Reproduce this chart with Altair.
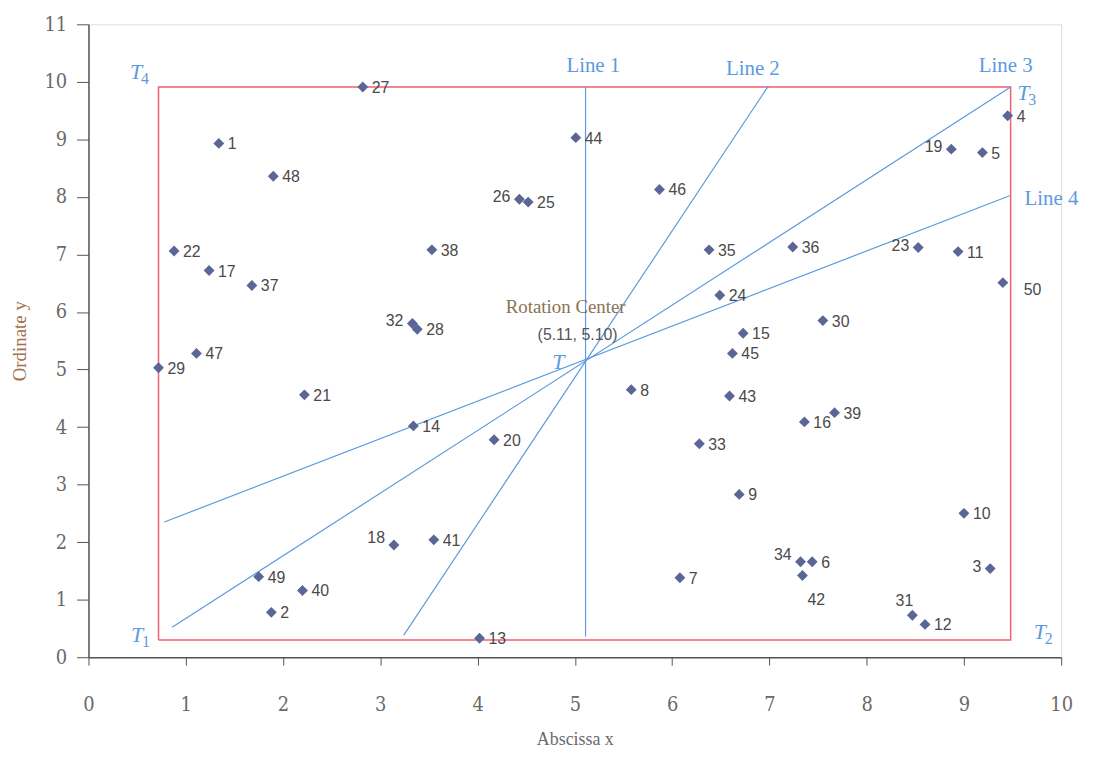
import altair as alt
import pandas as pd

# ---- data ----
ids = list(range(1, 51))
xs = [1.34, 1.88, 9.27, 9.45, 9.19, 7.44, 6.08, 5.58, 6.69, 9.00,
      8.94, 8.60, 4.02, 3.34, 6.73, 7.36, 1.24, 3.14, 8.87, 4.17,
      2.22, 0.88, 8.53, 6.49, 4.52, 4.43, 2.82, 3.38, 0.72, 7.55,
      8.47, 3.33, 6.28, 7.32, 6.38, 7.24, 1.68, 3.53, 7.67, 2.20,
      3.55, 7.34, 6.59, 5.01, 6.62, 5.87, 1.11, 1.90, 1.75, 9.40]
ys = [8.93, 0.78, 1.54, 9.41, 8.77, 1.66, 1.38, 4.65, 2.83, 2.50,
      7.05, 0.57, 0.33, 4.02, 5.63, 4.09, 6.72, 1.95, 8.83, 3.78,
      4.56, 7.06, 7.12, 6.29, 7.91, 7.96, 9.91, 5.70, 5.03, 5.85,
      0.73, 5.80, 3.71, 1.66, 7.08, 7.13, 6.46, 7.08, 4.25, 1.16,
      2.04, 1.42, 4.54, 9.03, 5.28, 8.13, 5.28, 8.36, 1.40, 6.51]

# label placement groups (by point id)
left_ids = [3, 19, 23, 26, 32]
upleft_ids = [18, 34]
above_ids = [31]
below_ids = [42]
far_ids = [50]

# bounding box corners T1..T4
box_x = [0.72, 9.48, 9.48, 0.72, 0.72]
box_y = [0.30, 0.30, 9.91, 9.91, 0.30]

# rotation lines (start, end)
line_names = ["Line 1", "Line 2", "Line 3", "Line 4"]
line_x0 = [5.11, 3.24, 0.86, 0.78]
line_y0 = [0.36, 0.38, 0.52, 2.35]
line_x1 = [5.11, 6.99, 9.48, 9.47]
line_y1 = [9.91, 9.93, 9.91, 8.02]
line_lab_x = [5.19, 6.83, 9.43, 9.90]
line_lab_y = [10.27, 10.23, 10.28, 7.96]

center = (5.11, 5.10)

t_names = ["T", "T", "T", "T", "T"]
t_subs = ["1", "2", "3", "4", ""]
t_x = [0.50, 9.78, 9.61, 0.49, 4.83]
t_y = [0.38, 0.43, 9.80, 10.17, 5.13]

# ---- tables ----
pts = pd.DataFrame({"id": ids, "x": xs, "y": ys})
pts["label"] = pts["id"].astype(str)


def grp(i):
    if i in left_ids:
        return "left"
    if i in upleft_ids:
        return "upleft"
    if i in above_ids:
        return "above"
    if i in below_ids:
        return "below"
    if i in far_ids:
        return "far"
    return "right"


pts["grp"] = pts["id"].apply(grp)

box = pd.DataFrame({"x": box_x, "y": box_y, "o": list(range(len(box_x)))})
rows = []
for n, a, b, c, d in zip(line_names, line_x0, line_y0, line_x1, line_y1):
    rows.append({"name": n, "x": a, "y": b, "o": 0})
    rows.append({"name": n, "x": c, "y": d, "o": 1})
lines = pd.DataFrame(rows)
line_labels = pd.DataFrame({"name": line_names, "x": line_lab_x, "y": line_lab_y})
tlabs = pd.DataFrame({"t": t_names, "s": t_subs, "x": t_x, "y": t_y})
ctr = pd.DataFrame({"x": [center[0]], "y": [center[1]],
                    "t1": ["Rotation Center"],
                    "t2": [f"({center[0]:.2f}, {center[1]:.2f})"]})

SERIF = "'DejaVu Serif Condensed', 'Liberation Serif', serif"
BLUE = "#5b9bdf"
RED = "#f0606e"

xsc = alt.Scale(domain=[0, 10], nice=False, zero=False)
ysc = alt.Scale(domain=[0, 11], nice=False, zero=False)

X = alt.X("x:Q", scale=xsc, axis=alt.Axis(
    values=list(range(11)), format="d", tickSize=8, labelPadding=30, labelFlush=False,
    labelFont=SERIF, labelFontSize=20, labelColor="#6a6a6a",
    domainColor="#555", tickColor="#555", domainWidth=1.5, grid=False,
    title="Abscissa x", titleFont="Liberation Serif", titleFontSize=18,
    titleFontWeight="normal", titleColor="#6a6a6a", titlePadding=16))
Y = alt.Y("y:Q", scale=ysc, axis=alt.Axis(
    values=list(range(12)), format="d", tickSize=12, labelPadding=10, labelFlush=False,
    labelFont=SERIF, labelFontSize=20, labelColor="#6a6a6a",
    domainColor="#555", tickColor="#555", domainWidth=1.5, grid=False,
    title="Ordinate y", titleFont="Liberation Serif", titleFontSize=19,
    titleFontWeight="normal", titleColor="#a0704a", titlePadding=14))
Xn = alt.X("x:Q", scale=xsc)
Yn = alt.Y("y:Q", scale=ysc)

box_l = alt.Chart(box).mark_line(color=RED, strokeWidth=1.5).encode(X, Y, order="o:Q")
line_l = alt.Chart(lines).mark_line(color=BLUE, strokeWidth=1.2).encode(
    Xn, Yn, detail="name:N", order="o:Q")
pt_l = alt.Chart(pts).mark_point(shape="diamond", filled=True, size=120,
                                 color="#5a6796", opacity=1).encode(Xn, Yn)

LF = "Liberation Sans"
LC = "#4a4a4a"


def lab(g, **kw):
    return alt.Chart(pts).transform_filter(alt.datum.grp == g).mark_text(
        font=LF, fontSize=16, color=LC, **kw).encode(Xn, Yn, text="label:N")


labs = [
    lab("right", align="left", baseline="middle", dx=9, dy=1),
    lab("left", align="right", baseline="middle", dx=-9, dy=-2),
    lab("upleft", align="right", baseline="middle", dx=-9, dy=-7),
    lab("above", align="center", baseline="bottom", dx=-8, dy=-6),
    lab("below", align="center", baseline="top", dx=14, dy=17),
    lab("far", align="left", baseline="middle", dx=21, dy=7),
]

line_txt = alt.Chart(line_labels).mark_text(
    font="Liberation Serif", fontSize=21, color=BLUE, align="center",
    baseline="middle").encode(Xn, Yn, text="name:N")

t_txt = alt.Chart(tlabs).mark_text(
    font="Liberation Serif", fontSize=22, fontStyle="italic", color=BLUE,
    align="center", baseline="middle").encode(Xn, Yn, text="t:N")
t_sub = alt.Chart(tlabs).mark_text(
    font="Liberation Serif", fontSize=16, color=BLUE, align="left",
    baseline="middle", dx=5, dy=7).encode(Xn, Yn, text="s:N")

c1 = alt.Chart(ctr).mark_text(font="Liberation Serif", fontSize=19,
                              color="#8a7452", align="center", baseline="middle",
                              dx=-20, dy=-57).encode(Xn, Yn, text="t1:N")
c2 = alt.Chart(ctr).mark_text(font=LF, fontSize=16, color="#555",
                              align="center", baseline="middle",
                              dx=-8, dy=-29).encode(Xn, Yn, text="t2:N")

chart = alt.layer(box_l, line_l, pt_l, *labs, line_txt, t_txt, t_sub, c1, c2).properties(
    width=979, height=637,
    autosize=alt.AutoSizeParams(type="none"),
    padding={"left": 81, "top": 14, "right": 32, "bottom": 95},
).configure_view(stroke=None).configure(background="white")

chart.save("out.html", embed_options={"renderer": "svg", "actions": False})
